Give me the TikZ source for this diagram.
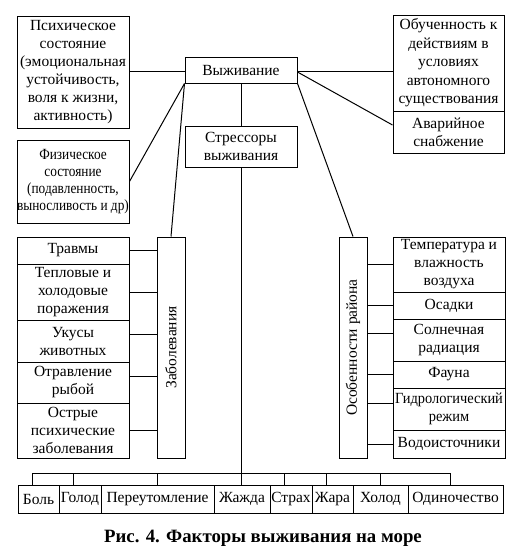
\documentclass[tikz,border=0pt]{standalone}
\usepackage{fontspec}
\setmainfont{Liberation Serif}
\newfontfamily\condfont{Liberation Serif}[FakeStretch=0.86]
\newfontfamily\slimfont{Liberation Serif}[FakeStretch=0.93]
\begin{document}
\begin{tikzpicture}[x=1pt,y=-1pt,
  box/.style={draw, line width=1pt, inner sep=0pt, align=center, font=\fontsize{15.5}{18}\selectfont},
  rbox/.style={box, rotate=90},
  ln/.style={line width=1pt},
  captxt/.style={font=\fontsize{18.8}{21}\selectfont\bfseries}]
\useasboundingbox[fill=white] (0,0) rectangle (520,558);
% top
\node[box, minimum width=112pt, minimum height=112pt] (psy) at (73,72) {Психическое\\состояние\\(эмоциональная\\устойчивость,\\воля к жизни,\\активность)};
\node[box, minimum width=112pt, minimum height=26pt] (viz) at (241,70) {Выживание};
\node[box, minimum width=112pt, minimum height=41pt] (str) at (241,146.5) {Стрессоры\\выживания};
\node[box, minimum width=112pt, minimum height=83pt, font=\condfont\fontsize{15.5}{17}\selectfont] (phys) at (73,181.5) {Физическое\\состояние\\(подавленность,\\выносливость и др)};
\node[box, minimum width=111pt, minimum height=96pt, font=\fontsize{15.5}{18.5}\selectfont] (obu) at (448.5,63) {Обученность к\\действиям в\\условиях\\автономного\\существования};
\node[box, minimum width=111pt, minimum height=42pt] (avar) at (448.5,132) {Аварийное\\снабжение};
% vertical boxes
\node[rbox, minimum width=221pt, minimum height=28pt] (zab) at (171,347.5) {Заболевания};
\node[rbox, minimum width=221pt, minimum height=28pt] (osob) at (353,347.5) {Особенности района};
% left column
\node[box, minimum width=112pt, minimum height=27pt] (trav) at (73,250.5) {Травмы};
\node[box, minimum width=112pt, minimum height=56pt] (tepl) at (73,292) {Тепловые и\\холодовые\\поражения};
\node[box, minimum width=112pt, minimum height=42pt] (uku) at (73,341) {Укусы\\животных};
\node[box, minimum width=112pt, minimum height=41pt] (otr) at (73,382.5) {Отравление\\рыбой};
\node[box, minimum width=112pt, minimum height=55pt] (ost) at (73,430.5) {Острые\\психические\\заболевания};
% right column
\node[box, minimum width=112pt, minimum height=55pt] (temp) at (449,264.5) {Температура и\\влажность\\воздуха};
\node[box, minimum width=112pt, minimum height=27pt] (osad) at (449,305.5) {Осадки};
\node[box, minimum width=112pt, minimum height=42pt] (soln) at (449,340) {Солнечная\\радиация};
\node[box, minimum width=112pt, minimum height=27pt] (faun) at (449,374.5) {Фауна};
\node[box, minimum width=112pt, minimum height=42pt, font=\slimfont\fontsize{15.5}{18}\selectfont] (gidr) at (449,409) {Гидрологический\\режим};
\node[box, minimum width=112pt, minimum height=28pt] (vodo) at (449,444) {Водоисточники};
% bottom row
\node[box, minimum width=41pt, minimum height=28pt] (bol) at (38.5,499) {Боль};
\node[box, minimum width=42pt, minimum height=28pt] (gol) at (80,499) {Голод};
\node[box, minimum width=113pt, minimum height=28pt] (per) at (157.5,499) {Переутомление};
\node[box, minimum width=56pt, minimum height=28pt] (zha) at (242,499) {Жажда};
\node[box, minimum width=42pt, minimum height=28pt] (stra) at (291,499) {Страх};
\node[box, minimum width=41pt, minimum height=28pt] (zhar) at (332.5,499) {Жара};
\node[box, minimum width=55pt, minimum height=28pt] (hol) at (380.5,499) {Холод};
\node[box, minimum width=95pt, minimum height=28pt] (odi) at (455.5,499) {Одиночество};
% caption
\node[captxt] (caption) at (263,538) {Рис. 4. Факторы выживания на море};
% connectors top
\draw[ln] ([yshift=1pt]psy.east) -- ([yshift=1pt]psy.east -| viz.west);
\draw[ln] (viz.south west) -- (phys.east);
\draw[ln] (viz.south west) -- (zab.east);
\draw[ln] (viz.south) -- (str.north);
\draw[ln] ([yshift=-1pt]viz.east) -- ([yshift=-1pt]viz.east -| obu.west);
\draw[ln] ([yshift=-2pt]viz.east) -- ([yshift=7pt]avar.west);
\draw[ln] (viz.south east) -- (osob.east);
% bus
\coordinate (busL) at (32,473);
\coordinate (busR) at (450,473);
\draw[ln] (str.south) -- (str.south |- busL);
\draw[ln] (busL) -- (busR);
\draw[ln] ([xshift=-6.5pt]bol.north) -- ([xshift=-6.5pt]bol.north |- busL);
\draw[ln] ([xshift=-7pt]gol.north) -- ([xshift=-7pt]gol.north |- busL);
\draw[ln] (per.north) -- (per.north |- busL);
\draw[ln] ([xshift=-1pt]zha.north) -- ([xshift=-1pt]zha.north |- busL);
\draw[ln] ([xshift=-7pt]stra.north) -- ([xshift=-7pt]stra.north |- busL);
\draw[ln] ([xshift=-6.5pt]zhar.north) -- ([xshift=-6.5pt]zhar.north |- busL);
\draw[ln] (hol.north) -- (hol.north |- busL);
\draw[ln] ([xshift=-5.5pt]odi.north) -- ([xshift=-5.5pt]odi.north |- busL);
% left stubs
\draw[ln] (trav.east) -- (trav.east -| zab.north);
\draw[ln] (tepl.east) -- (tepl.east -| zab.north);
\draw[ln] ([yshift=7pt]uku.east) -- ([yshift=7pt]uku.east -| zab.north);
\draw[ln] ([yshift=6.5pt]otr.east) -- ([yshift=6.5pt]otr.east -| zab.north);
\draw[ln] (ost.east) -- (ost.east -| zab.north);
% right stubs
\draw[ln] (temp.west) -- (temp.west -| osob.south);
\draw[ln] (osad.west) -- (osad.west -| osob.south);
\draw[ln] ([yshift=7pt]soln.west) -- ([yshift=7pt]soln.west -| osob.south);
\draw[ln] (faun.west) -- (faun.west -| osob.south);
\draw[ln] ([yshift=6pt]gidr.west) -- ([yshift=6pt]gidr.west -| osob.south);
\draw[ln] (vodo.west) -- (vodo.west -| osob.south);
\end{tikzpicture}
\end{document}
